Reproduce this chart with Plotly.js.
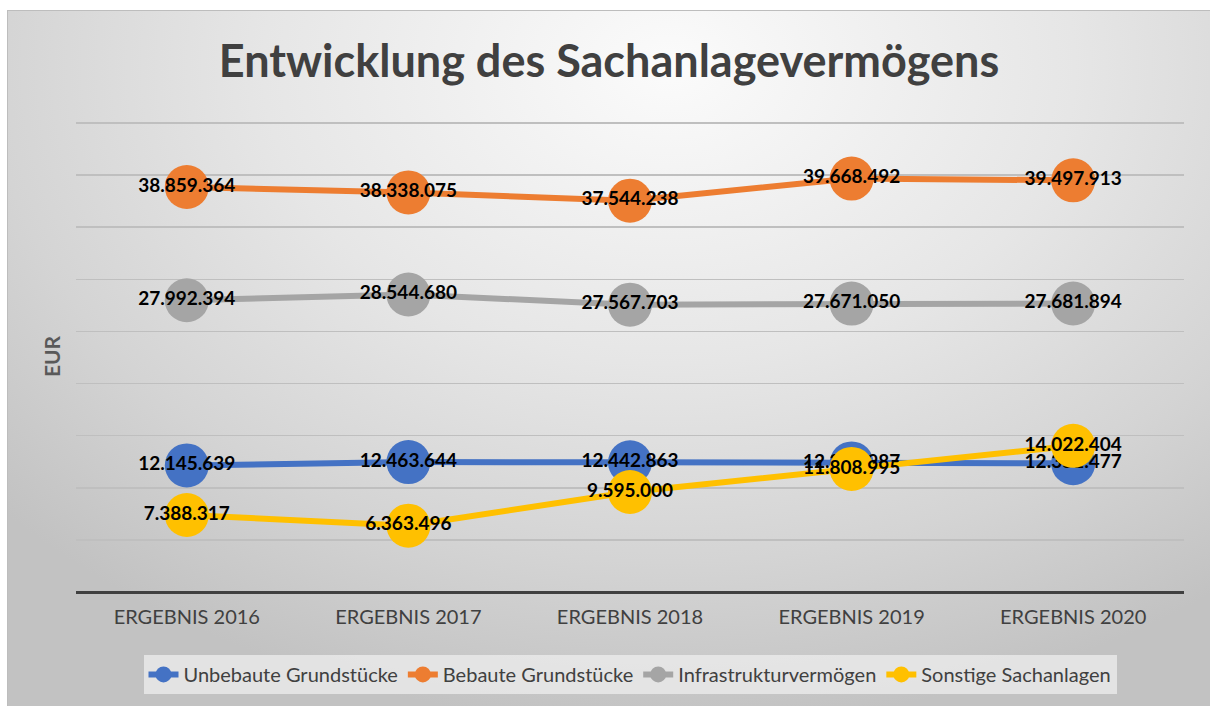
<!DOCTYPE html>
<html>
<head>
<meta charset="utf-8">
<script src="https://cdn.plot.ly/plotly-3.0.1.min.js"></script>
<style>
  html, body { margin: 0; padding: 0; background: #ffffff; }
  #chart {
    position: absolute; left: 7px; top: 10px; width: 1202px; height: 695px;
    background: radial-gradient(ellipse 75% 95% at 55% 8%, #fbfbfb 0%, #e6e6e6 45%, #d4d4d4 75%, #c2c2c2 100%);
    border: 1px solid #bdbdbd;
  }
</style>
</head>
<body>
<div id="chart"></div>
<script>
const categories = ["ERGEBNIS 2016", "ERGEBNIS 2017", "ERGEBNIS 2018", "ERGEBNIS 2019", "ERGEBNIS 2020"];
const unbebaute = [12145639, 12463644, 12442863, 12338987, 12351477];
const bebaute = [38859364, 38338075, 37544238, 39668492, 39497913];
const infrastruktur = [27992394, 28544680, 27567703, 27671050, 27681894];
const sonstige = [7388317, 6363496, 9595000, 11808995, 14022404];

const seriesNames = ["Unbebaute Grundstücke", "Bebaute Grundstücke", "Infrastrukturvermögen", "Sonstige Sachanlagen"];
const seriesValues = [unbebaute, bebaute, infrastruktur, sonstige];
const seriesColors = ["#4472c4", "#ed7d31", "#a5a5a5", "#ffc000"];

const traces = seriesValues.map((vals, i) => ({
  type: "scatter",
  mode: "lines+markers+text",
  name: seriesNames[i],
  x: categories,
  y: vals,
  line: { color: seriesColors[i], width: 6 },
  marker: { color: seriesColors[i], size: 44 },
  texttemplate: "%{y:,}",
  textposition: "middle center",
  textfont: { family: "Lato, 'Open Sans', sans-serif", size: 19, color: "#000000", weight: "bold" },
  hoverinfo: "none"
}));

const layout = {
  width: 1202, height: 695,
  paper_bgcolor: "rgba(0,0,0,0)",
  plot_bgcolor: "rgba(0,0,0,0)",
  separators: ",.",
  margin: { l: 68, r: 26, t: 110, b: 112 },
  title: {
    text: "<b>Entwicklung des Sachanlagevermögens</b>",
    font: { family: "Lato, 'Open Sans', sans-serif", size: 45, color: "#404040" },
    x: 0.5, xanchor: "center", y: 0.928, yanchor: "middle"
  },
  xaxis: {
    type: "category",
    range: [-0.5, 4.5],
    showgrid: false,
    showline: false,
    zeroline: false,
    ticks: "",
    tickfont: { family: "Lato, 'Open Sans', sans-serif", size: 20, color: "#404040" },
    ticklabelstandoff: 11
  },
  yaxis: {
    range: [0, 45190000],
    dtick: 5000000,
    showticklabels: false,
    gridcolor: "#bfbfbf",
    gridwidth: 1.5,
    zeroline: true,
    zerolinecolor: "#404040",
    zerolinewidth: 3,
    title: {
      text: "<b>EUR</b>",
      font: { family: "Lato, 'Open Sans', sans-serif", size: 21, color: "#595959", weight: "bold" },
      standoff: 8
    }
  },
  showlegend: true,
  legend: {
    orientation: "h",
    x: 0.5, xanchor: "center",
    y: -0.175, yanchor: "middle",
    bgcolor: "rgba(238,238,238,0.75)",
    font: { family: "Lato, 'Open Sans', sans-serif", size: 20, color: "#404040" },
    traceorder: "normal"
  }
};

Plotly.newPlot("chart", traces, layout, { displayModeBar: false, staticPlot: true });
</script>
</body>
</html>
